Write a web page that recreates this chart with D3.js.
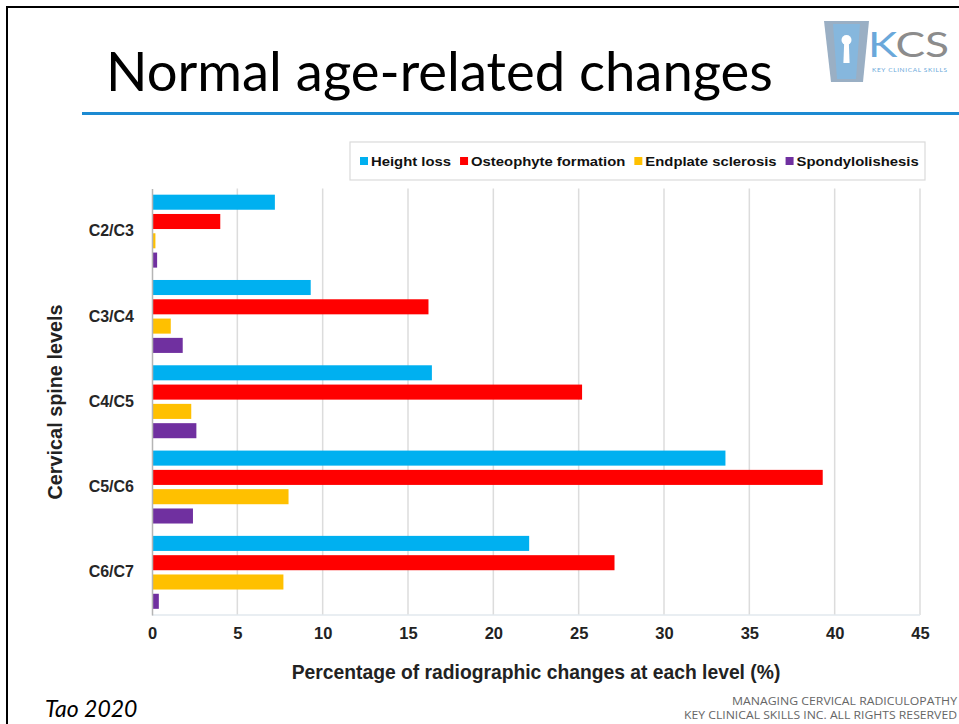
<!DOCTYPE html>
<html>
<head>
<meta charset="utf-8">
<script src="https://cdn.jsdelivr.net/npm/d3@7"></script>
<style>
  html, body { margin: 0; padding: 0; background: #fff; }
  svg { display: block; }
</style>
</head>
<body>
<script>
// Cervical spine levels and the share of radiographic changes (%) seen at each
const categories = ["C2/C3", "C3/C4", "C4/C5", "C5/C6", "C6/C7"];
const seriesNames = ["Height loss", "Osteophyte formation", "Endplate sclerosis", "Spondylolishesis"];
const heightLoss = [7.2, 9.3, 16.4, 33.6, 22.1];
const osteophyteFormation = [4.0, 16.2, 25.2, 39.3, 27.1];
const endplateSclerosis = [0.2, 1.1, 2.3, 8.0, 7.7];
const spondylolishesis = [0.3, 1.8, 2.6, 2.4, 0.4];
const xTickValues = [0, 5, 10, 15, 20, 25, 30, 35, 40, 45];
const seriesColors = ["#00B0F0", "#FF0000", "#FFC000", "#7030A0"];

const seriesValues = [heightLoss, osteophyteFormation, endplateSclerosis, spondylolishesis];
const rows = categories.map((c, i) => ({
  level: c,
  values: seriesNames.map((s, j) => ({ series: s, value: seriesValues[j][i] }))
}));

const W = 959, H = 724;
const svg = d3.select("body").append("svg").attr("width", W).attr("height", H);

// slide frame
svg.append("path")
  .attr("d", `M7,${H} L7,7 L${W},7`)
  .attr("fill", "none").attr("stroke", "#000").attr("stroke-width", 2);

// fit a text element to a given width by scaling its font size
function fitWidth(sel, width) {
  const fs = parseFloat(sel.attr("font-size"));
  const w = sel.node().getComputedTextLength();
  sel.attr("font-size", (fs * width / w).toFixed(2));
}

// title
const title = svg.append("text")
  .attr("x", 106).attr("y", 91)
  .attr("font-family", "Lato, 'Open Sans', sans-serif")
  .attr("font-size", 50).attr("fill", "#000")
  .text("Normal age-related changes");
fitWidth(title, 667);

svg.append("line")
  .attr("x1", 82).attr("x2", W).attr("y1", 113.5).attr("y2", 113.5)
  .attr("stroke", "#1C8AD2").attr("stroke-width", 3);

// logo
const logo = svg.append("g");
logo.append("path")
  .attr("d", "M824,21 L869,21 L863,82 L831,82 Z")
  .attr("fill", "#9AAFC4");
logo.append("path")
  .attr("d", "M833,24 L860,24 L856,79 L837,79 Z")
  .attr("fill", "#86B7DD");
logo.append("circle").attr("cx", 846.5).attr("cy", 40).attr("r", 5).attr("fill", "#fff");
logo.append("path").attr("d", "M844.2,42 L848.8,42 L849.6,63 L843.4,63 Z").attr("fill", "#fff");
const kcs = logo.append("text")
  .attr("x", 868).attr("y", 57)
  .attr("font-family", "Lato, 'Open Sans', sans-serif")
  .attr("font-size", 35).attr("fill", "#8C8C8C")
  .attr("textLength", 81).attr("lengthAdjust", "spacingAndGlyphs");
kcs.append("tspan").attr("fill", "#6AA8DA").text("K");
kcs.append("tspan").text("CS");
logo.append("text")
  .attr("x", 872).attr("y", 72)
  .attr("font-family", "Lato, 'Open Sans', sans-serif")
  .attr("font-size", 6.5).attr("fill", "#6AA8DA")
  .attr("textLength", 75).attr("lengthAdjust", "spacing")
  .text("KEY CLINICAL SKILLS");

// chart scales
const x = d3.scaleLinear().domain([0, 45]).range([152, 920]);
const y0 = d3.scaleBand().domain(categories).range([188.5, 615]).padding(0);
const y1 = d3.scaleBand().domain(seriesNames).range([0, y0.bandwidth()])
  .paddingInner(0.22).paddingOuter(0.32);
const color = d3.scaleOrdinal().domain(seriesNames).range(seriesColors);

// vertical gridlines and plot frame
svg.append("g").selectAll("line")
  .data(xTickValues.slice(1))
  .join("line")
  .attr("x1", d => x(d)).attr("x2", d => x(d))
  .attr("y1", 188.5).attr("y2", 615)
  .attr("stroke", "#DCDCDC").attr("stroke-width", 1.5);
svg.append("line")
  .attr("x1", 152).attr("x2", 920).attr("y1", 615).attr("y2", 615)
  .attr("stroke", "#E2E8EE").attr("stroke-width", 1.5);

// bars
const groups = svg.append("g").selectAll("g")
  .data(rows).join("g")
  .attr("transform", d => `translate(0,${y0(d.level)})`);
groups.selectAll("rect")
  .data(d => d.values).join("rect")
  .attr("x", x(0))
  .attr("y", d => y1(d.series))
  .attr("width", d => x(d.value) - x(0))
  .attr("height", y1.bandwidth())
  .attr("fill", d => color(d.series));

// value axis
const xAxis = svg.append("g")
  .attr("transform", "translate(0,615)")
  .call(d3.axisBottom(x).tickValues(xTickValues).tickSize(0).tickPadding(12).tickFormat(d3.format("d")));
xAxis.select(".domain").remove();
xAxis.selectAll("text")
  .attr("font-family", "'Liberation Sans', Arial, sans-serif")
  .attr("font-weight", "bold").attr("font-size", 16.5).attr("fill", "#222");

// category axis
const yAxis = svg.append("g")
  .attr("transform", "translate(152,0)")
  .call(d3.axisLeft(y0).tickSize(0).tickPadding(18));
yAxis.select(".domain").attr("stroke", "#B5B5B5").attr("stroke-width", 1.5);
yAxis.selectAll("text")
  .attr("font-family", "'Liberation Sans', Arial, sans-serif")
  .attr("font-weight", "bold").attr("font-size", 16).attr("fill", "#262626");

// axis titles
const xTitle = svg.append("text")
  .attr("x", 536).attr("y", 679).attr("text-anchor", "middle")
  .attr("font-family", "'Liberation Sans', Arial, sans-serif")
  .attr("font-weight", "bold").attr("font-size", 18).attr("fill", "#222")
  .text("Percentage of radiographic changes at each level (%)");
fitWidth(xTitle, 489);

const yTitle = svg.append("text")
  .attr("transform", "translate(62,402) rotate(-90)")
  .attr("text-anchor", "middle")
  .attr("font-family", "'Liberation Sans', Arial, sans-serif")
  .attr("font-weight", "bold").attr("font-size", 19).attr("fill", "#222")
  .text("Cervical spine levels");
fitWidth(yTitle, 195);

// legend: swatch + label, laid out left to right
const legendBox = svg.append("rect")
  .attr("x", 350).attr("y", 142).attr("width", 575).attr("height", 38)
  .attr("fill", "#fff").attr("stroke", "#DADADA").attr("stroke-width", 1.2);
const legend = svg.append("g").attr("transform", "translate(360,161)");
const legendStretch = 1.1;
let cursor = 0;
seriesNames.forEach(name => {
  const item = legend.append("g").attr("transform", `translate(${cursor},0)`);
  item.append("rect")
    .attr("x", 0).attr("y", -4).attr("width", 8).attr("height", 8)
    .attr("fill", color(name));
  const t = item.append("text")
    .attr("x", 11).attr("dy", "0.36em")
    .attr("font-family", "'Liberation Sans', Arial, sans-serif")
    .attr("font-weight", "bold").attr("font-size", 13.5).attr("fill", "#111")
    .text(name);
  const w = t.node().getComputedTextLength() * legendStretch;
  t.attr("textLength", w).attr("lengthAdjust", "spacingAndGlyphs");
  cursor += 11 + w + 9;
});

// footer
svg.append("text")
  .attr("x", 45).attr("y", 717)
  .attr("font-family", "Lato, 'Open Sans', sans-serif")
  .attr("font-style", "italic").attr("font-size", 23).attr("fill", "#000")
  .text("Tao 2020");
svg.append("text")
  .attr("x", 957).attr("y", 705).attr("text-anchor", "end")
  .attr("font-family", "'Open Sans', sans-serif")
  .attr("font-size", 11.5).attr("fill", "#666")
  .attr("textLength", 225).attr("lengthAdjust", "spacingAndGlyphs")
  .text("MANAGING CERVICAL RADICULOPATHY");
svg.append("text")
  .attr("x", 957).attr("y", 719).attr("text-anchor", "end")
  .attr("font-family", "'Open Sans', sans-serif")
  .attr("font-size", 11.5).attr("fill", "#666")
  .attr("textLength", 273).attr("lengthAdjust", "spacingAndGlyphs")
  .text("KEY CLINICAL SKILLS INC. ALL RIGHTS RESERVED");
</script>
</body>
</html>
